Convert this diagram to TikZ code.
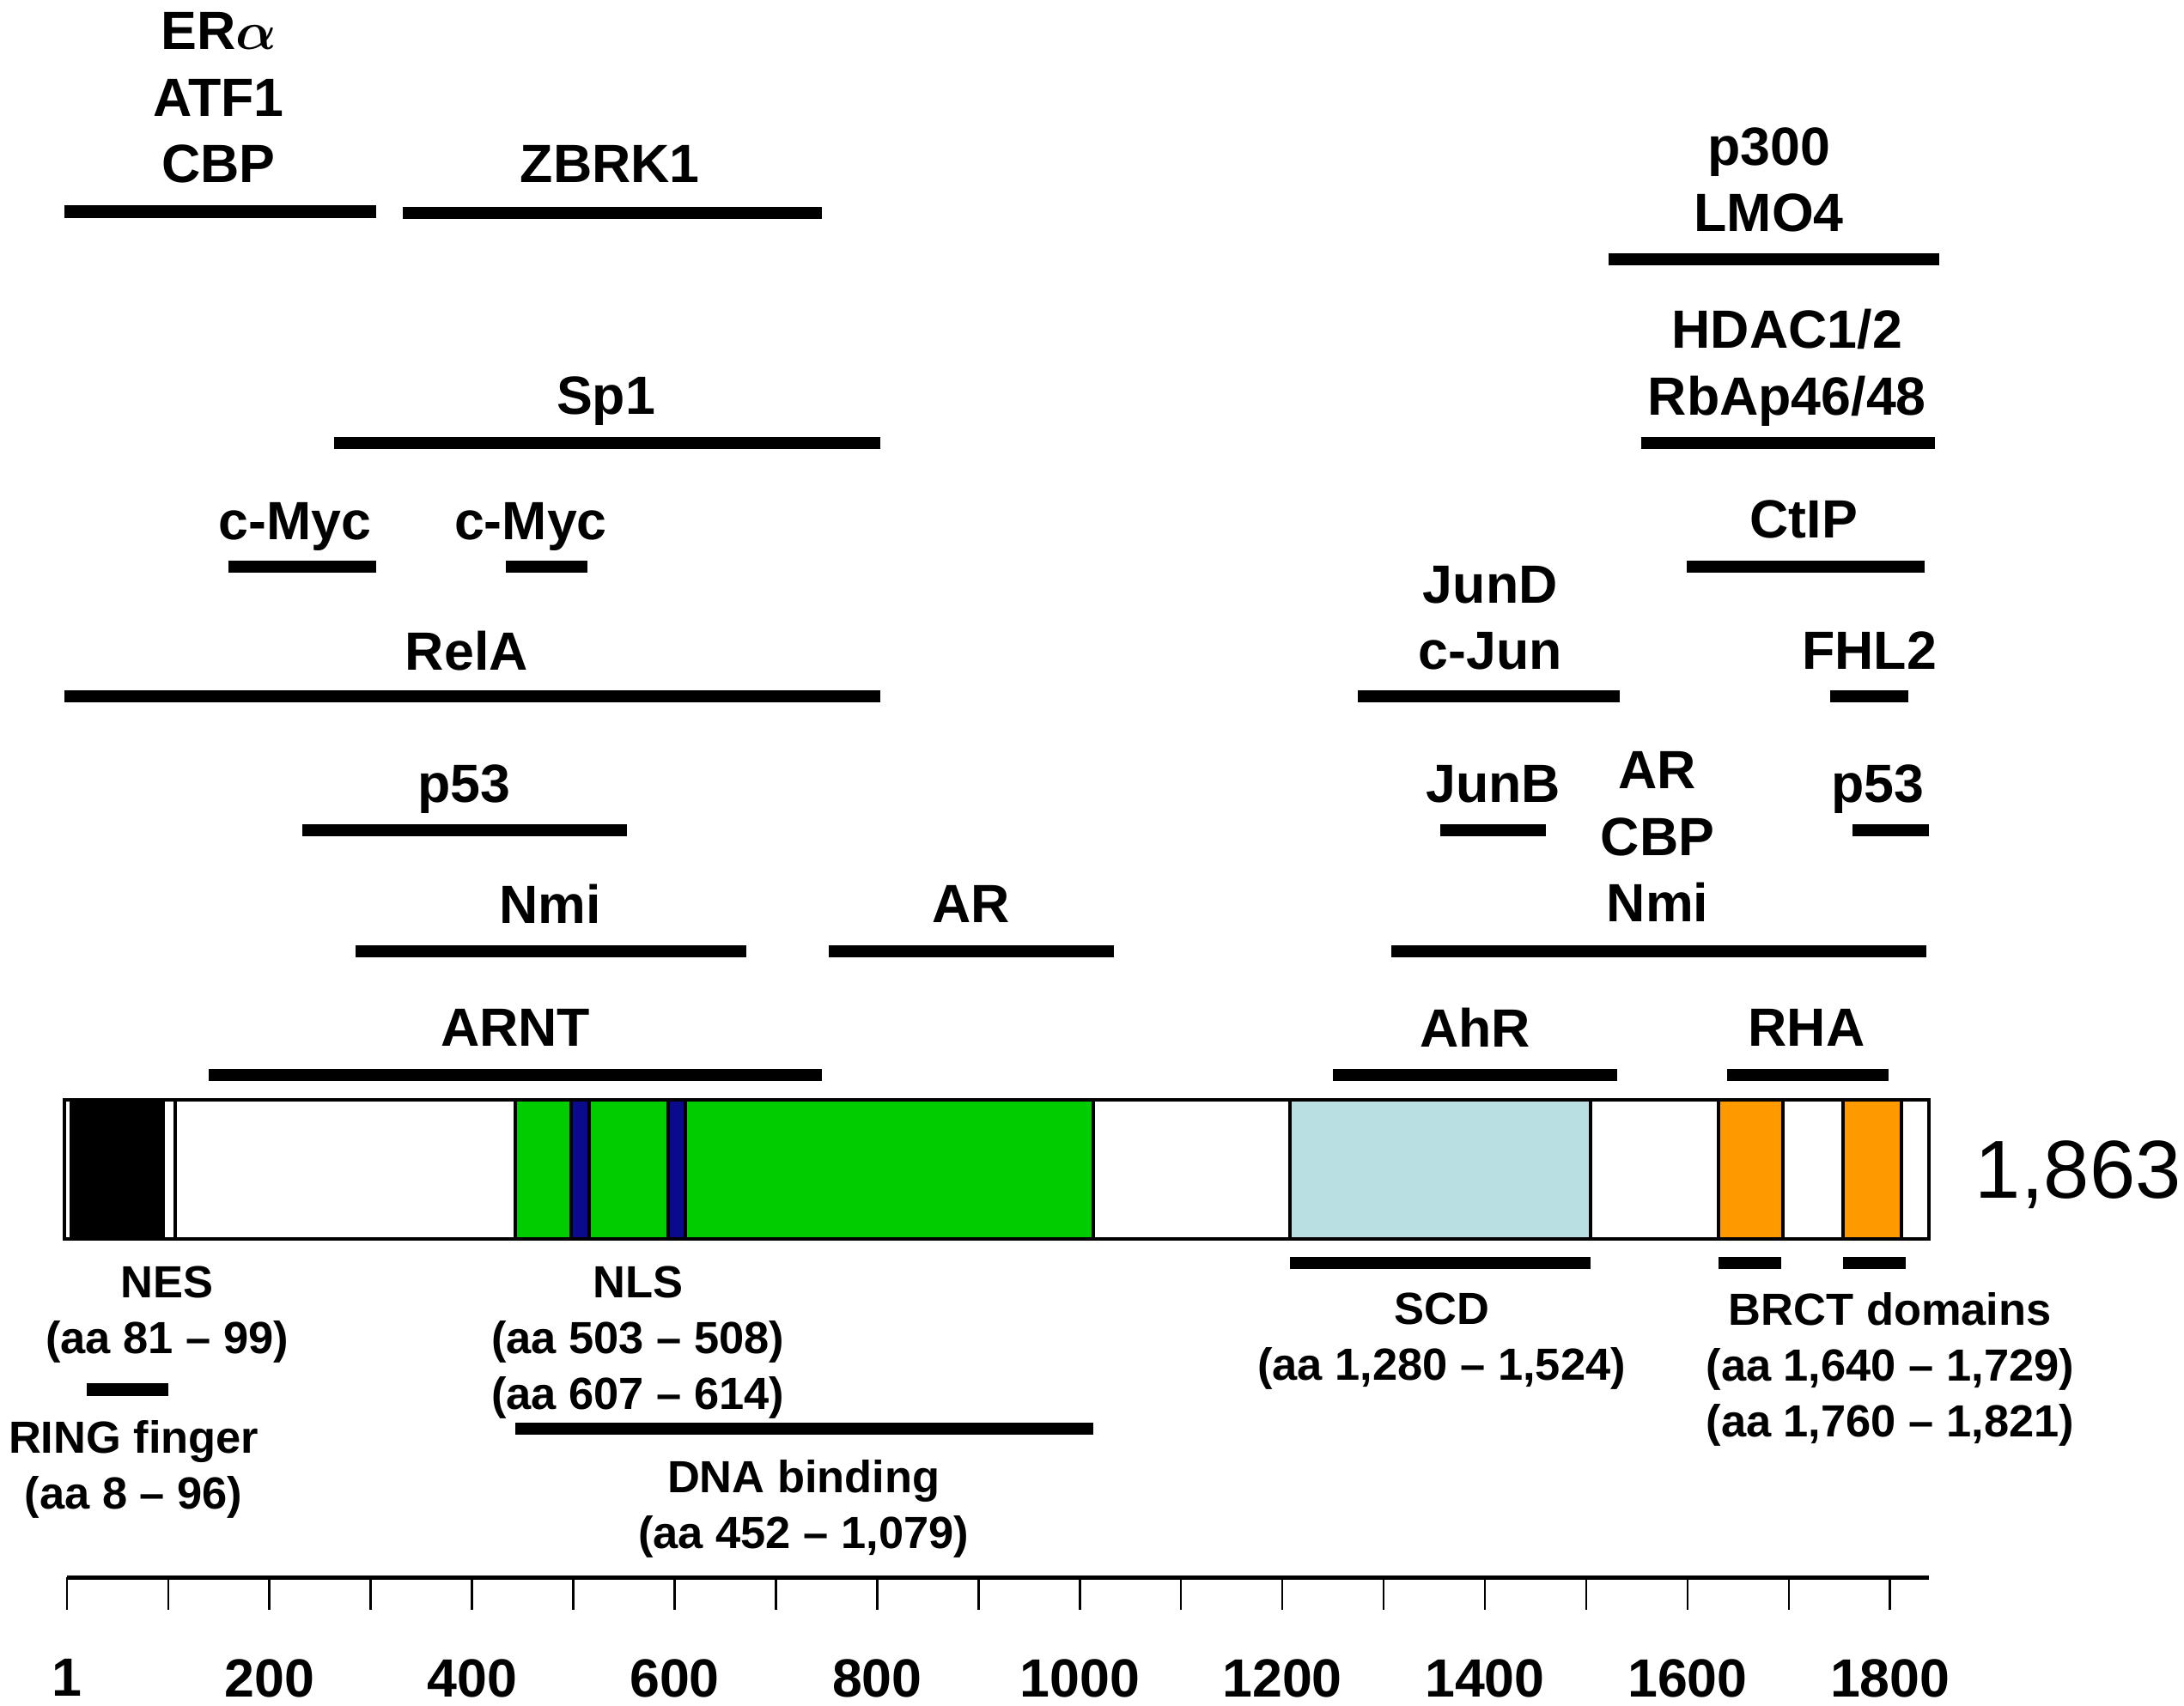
\documentclass[tikz,border=0pt]{standalone}
\usepackage{fontspec}
\setmainfont{Liberation Sans}
\definecolor{dnagreen}{RGB}{0,204,0}
\definecolor{nlsblue}{RGB}{10,10,140}
\definecolor{scdblue}{RGB}{185,223,227}
\definecolor{brctorange}{RGB}{255,153,0}
\begin{document}
\boldmath
\begin{tikzpicture}
    [lbl/.style={font=\bfseries\fontsize{11}{13.6}\selectfont, align=center, inner sep=0pt, text depth=0pt},
    sub/.style={font=\bfseries\fontsize{9.2}{11.4}\selectfont, align=center, inner sep=0pt, text depth=0pt},
    site/.style={line width=0.87mm},
    dom/.style={draw=black, line width=0.7pt},
    tickmark/.style={line width=0.45pt},
    scalenum/.style={font=\bfseries\fontsize{11}{13}\selectfont, inner sep=0pt, text depth=0pt}]

    \useasboundingbox (0,0) rectangle (15.68,12.25);

    % binding partners (labels)
    \node[lbl] (era) at (1.57,11.55) {ER$\alpha$\\ATF1\\CBP};
    \node[lbl] (zbrk) at (4.38,11.07) {ZBRK1};
    \node[lbl] (p300) at (12.70,10.96) {p300\\LMO4};
    \node[lbl] (hdac) at (12.83,9.65) {HDAC1/2\\RbAp46/48};
    \node[lbl] (sp1) at (4.35,9.41) {Sp1};
    \node[lbl] (myca) at (2.12,8.51) {c-Myc};
    \node[lbl] (mycb) at (3.81,8.51) {c-Myc};
    \node[lbl] (ctip) at (12.95,8.52) {CtIP};
    \node[lbl] (jund) at (10.70,7.815) {JunD\\c-Jun};
    \node[lbl] (fhl) at (13.42,7.58) {FHL2};
    \node[lbl] (rela) at (3.35,7.58) {RelA};
    \node[lbl] (p53a) at (3.33,6.62) {p53};
    \node[lbl] (junb) at (10.72,6.62) {JunB};
    \node[lbl] (p53b) at (13.48,6.62) {p53};
    \node[lbl] (arcbp) at (11.90,6.24) {AR\\CBP\\Nmi};
    \node[lbl] (nmi) at (3.95,5.76) {Nmi};
    \node[lbl] (ar) at (6.97,5.76) {AR};
    \node[lbl] (arnt) at (3.70,4.87) {ARNT};
    \node[lbl] (ahr) at (10.59,4.87) {AhR};
    \node[lbl] (rha) at (12.97,4.87) {RHA};

    % binding regions
    \draw[site] (0.46,10.73) -- (2.70,10.73);
    \draw[site] (2.89,10.72) -- (5.90,10.72);
    \draw[site] (11.55,10.39) -- (13.92,10.39);
    \draw[site] (11.78,9.07) -- (13.89,9.07);
    \draw[site] (2.40,9.07) -- (6.32,9.07);
    \draw[site] (1.64,8.18) -- (2.70,8.18);
    \draw[site] (3.63,8.18) -- (4.22,8.18);
    \draw[site] (12.11,8.18) -- (13.82,8.18);
    \draw[site] (9.75,7.25) -- (11.63,7.25);
    \draw[site] (13.14,7.25) -- (13.70,7.25);
    \draw[site] (0.46,7.25) -- (6.32,7.25);
    \draw[site] (2.17,6.29) -- (4.50,6.29);
    \draw[site] (10.34,6.29) -- (11.10,6.29);
    \draw[site] (13.30,6.29) -- (13.85,6.29);
    \draw[site] (9.99,5.42) -- (13.83,5.42);
    \draw[site] (2.55,5.42) -- (5.36,5.42);
    \draw[site] (5.95,5.42) -- (8.00,5.42);
    \draw[site] (1.50,4.53) -- (5.90,4.53);
    \draw[site] (9.57,4.53) -- (11.61,4.53);
    \draw[site] (12.40,4.53) -- (13.56,4.53);

    % protein with its domains
    \fill[white] (0.46,3.35) rectangle (13.85,4.35);
    \fill[black] (0.50,3.35) rectangle (1.17,4.35);
    \draw[dom, fill=white] (1.17,3.35) rectangle (1.26,4.35);
    \draw[dom, fill=dnagreen] (3.70,3.35) rectangle (7.85,4.35);
    \draw[dom, fill=nlsblue] (4.10,3.35) rectangle (4.23,4.35);
    \draw[dom, fill=nlsblue] (4.80,3.35) rectangle (4.92,4.35);
    \draw[dom, fill=scdblue] (9.26,3.35) rectangle (11.42,4.35);
    \draw[dom, fill=brctorange] (12.34,3.35) rectangle (12.80,4.35);
    \draw[dom, fill=brctorange] (13.23,3.35) rectangle (13.65,4.35);
    \draw[dom] (0.46,3.35) rectangle (13.85,4.35);
    \node[font=\fontsize{16.8}{18}\selectfont, inner sep=0pt, text depth=0pt] (len) at (14.92,3.85) {1,863};

    % domain annotations
    \draw[site] (9.26,3.18) -- (11.42,3.18);
    \draw[site] (12.34,3.18) -- (12.79,3.18);
    \draw[site] (13.23,3.18) -- (13.68,3.18);
    \draw[site] (0.62,2.27) -- (1.21,2.27);
    \draw[site] (3.70,1.99) -- (7.85,1.99);
    \node[sub] (nes) at (1.20,2.845) {NES\\(aa 81 -- 99)};
    \node[sub] (ring) at (0.96,1.73) {RING finger\\(aa 8 -- 96)};
    \node[sub] (nls) at (4.58,2.64) {NLS\\(aa 503 -- 508)\\(aa 607 -- 614)};
    \node[sub] (dna) at (5.77,1.45) {DNA binding\\(aa 452 -- 1,079)};
    \node[sub] (scd) at (10.35,2.65) {SCD\\(aa 1,280 -- 1,524)};
    \node[sub] (brct) at (13.57,2.45) {BRCT domains\\(aa 1,640 -- 1,729)\\(aa 1,760 -- 1,821)};

    % scale
    \draw[line width=0.3mm] (0.48,0.92) -- (13.85,0.92);
    \foreach \k in {0,...,18}
        \draw[tickmark] ({0.48+0.7272*\k},0.92) -- ++(0,-0.23);
    \foreach \v/\k in {1/0,200/1,400/2,600/3,800/4,1000/5,1200/6,1400/7,1600/8,1800/9}
        \node[scalenum] (n\k) at ({0.48+1.4544*\k},0.20) {\v};

\end{tikzpicture}
\end{document}
